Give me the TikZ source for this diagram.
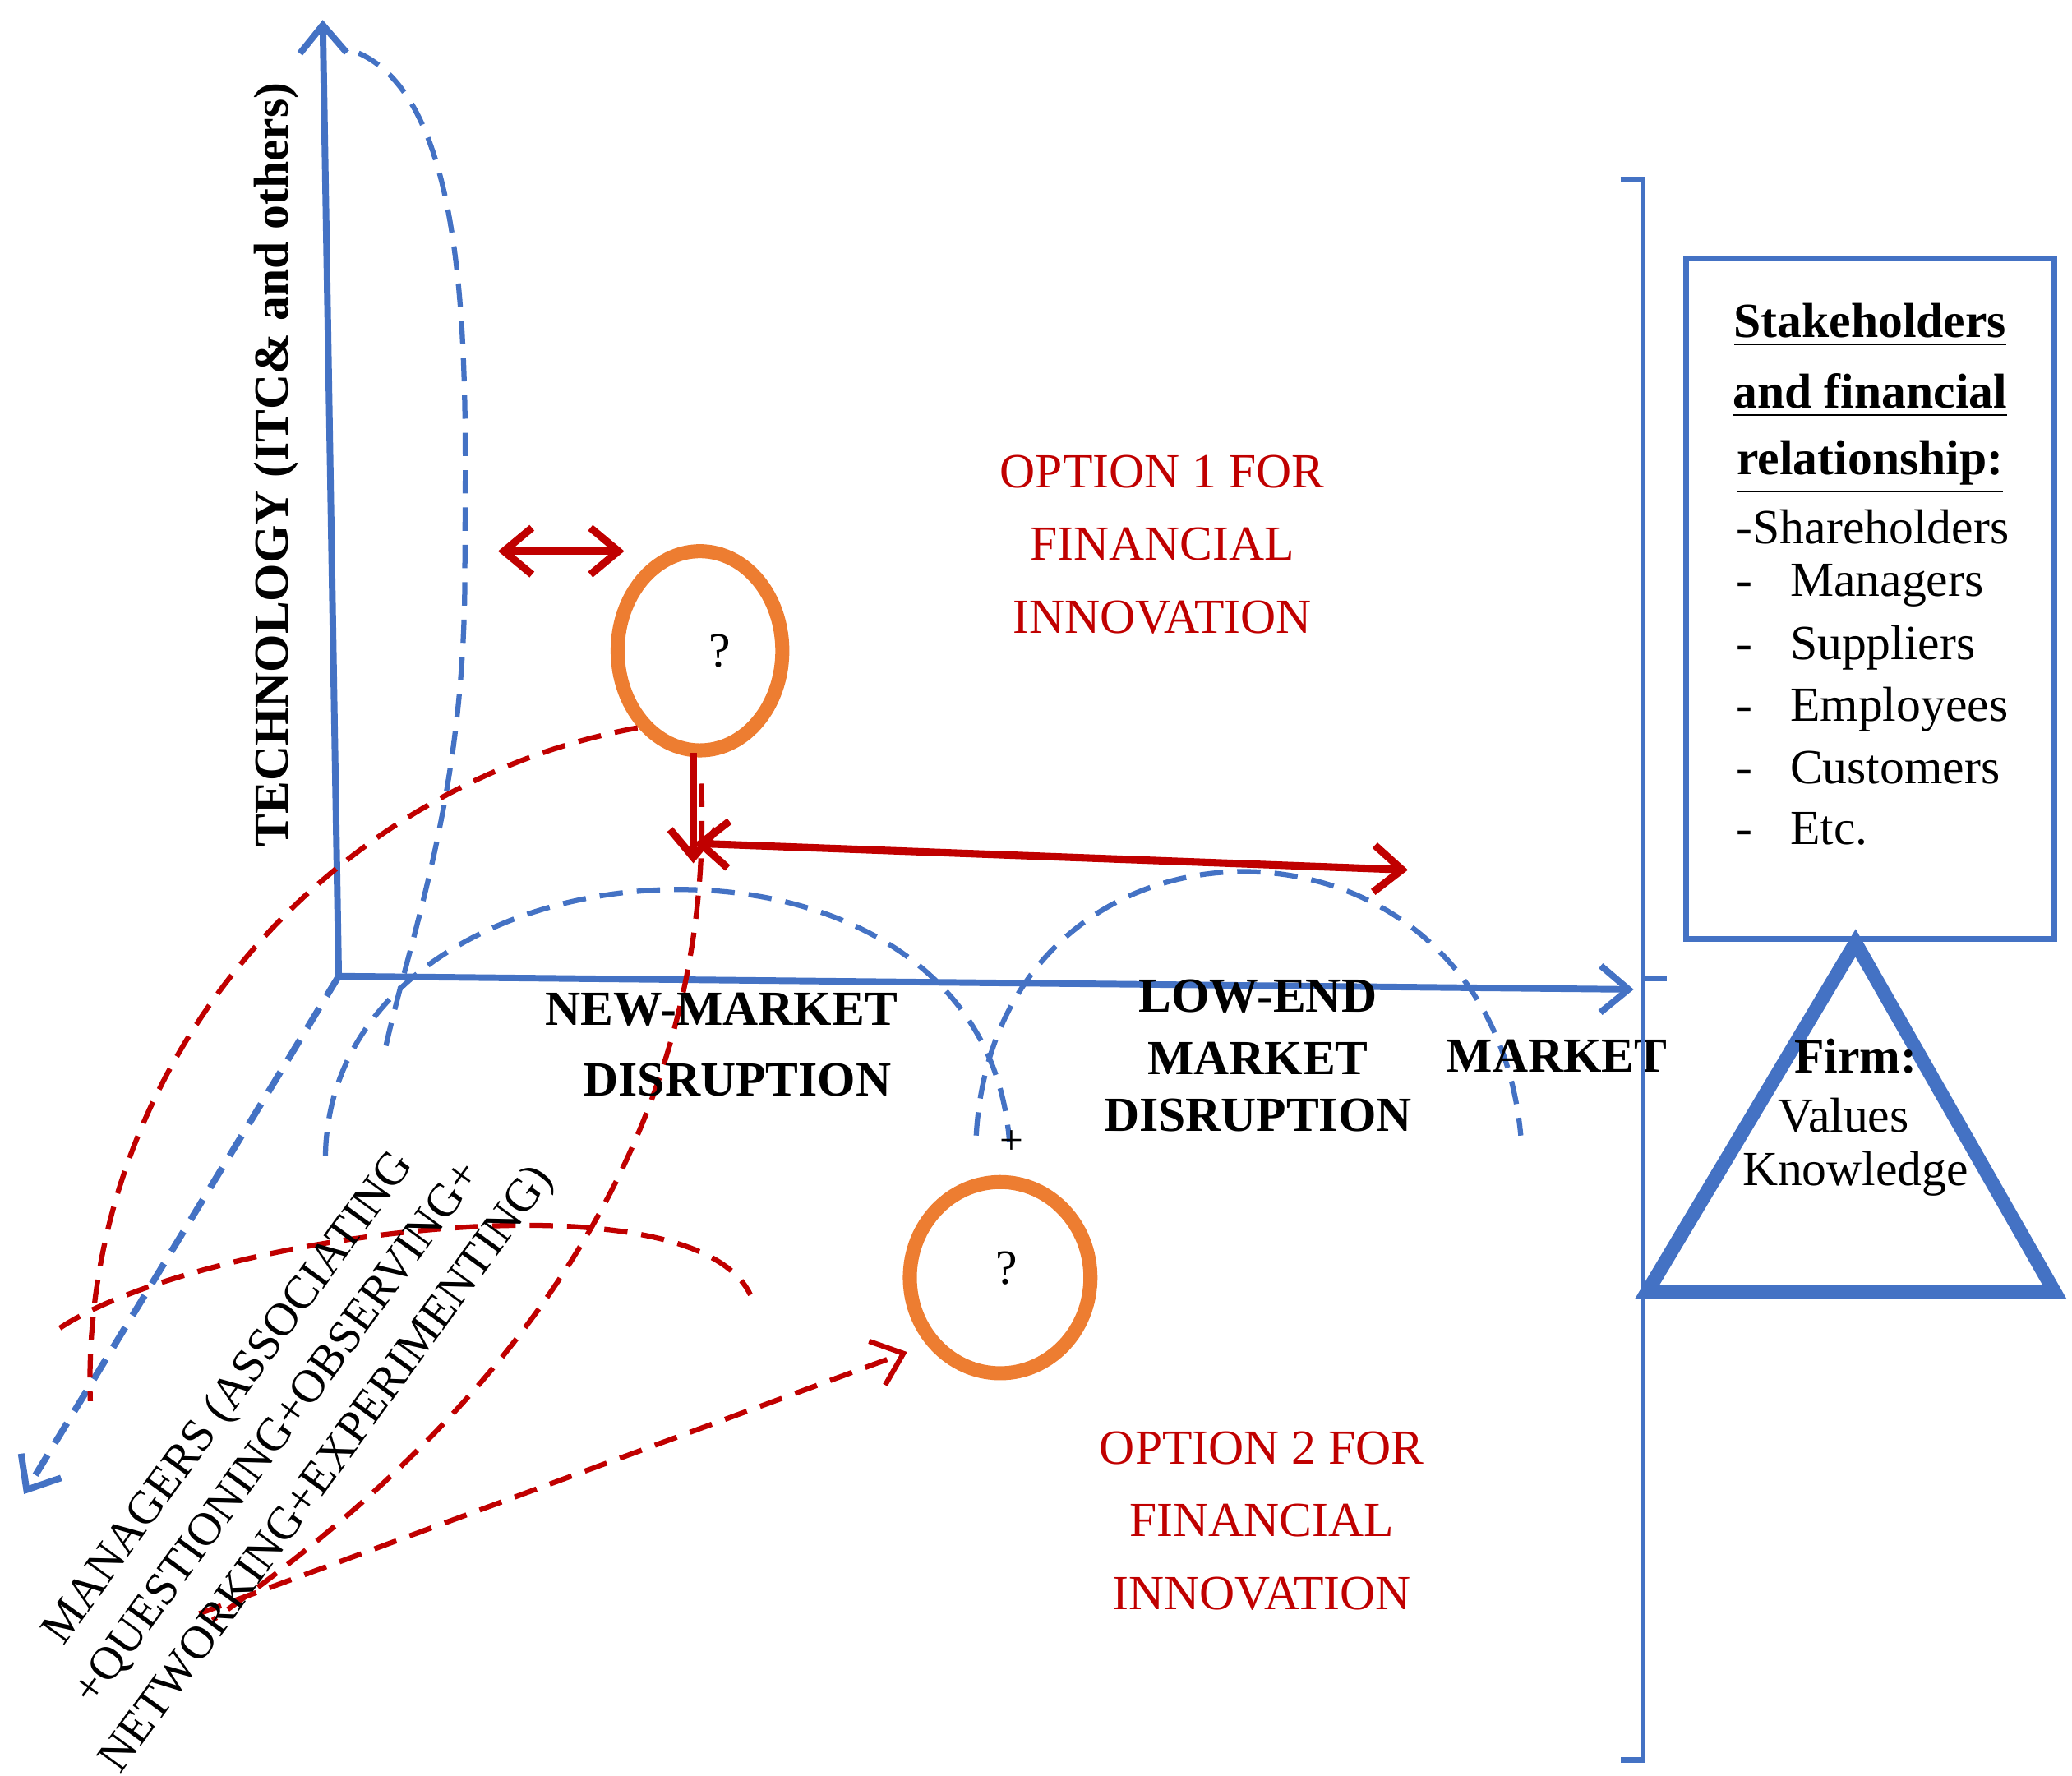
\documentclass[tikz,border=0pt]{standalone}
\usepackage{fontspec}
\setmainfont{Liberation Serif}
\usetikzlibrary{arrows.meta}
\definecolor{cblue}{RGB}{68,114,196}
\definecolor{cred}{RGB}{192,0,0}
\definecolor{corange}{RGB}{237,125,49}
\begin{document}
\begin{tikzpicture}[x=0.01cm,y=-0.01cm,
  axis/.style={cblue,line width=1.4pt,-{Straight Barb[length=6pt,width=10pt]}},
  bdash/.style={cblue,line width=1.1pt,dash pattern=on 5pt off 3pt},
  rdash/.style={cred,line width=1.1pt,dash pattern=on 5pt off 3pt},
  rarr/.style={cred,line width=1.6pt},
  tip/.style={-{Straight Barb[length=6pt,width=10pt]}},
  redtxt/.style={cred,font=\fontsize{10.5}{15.6}\selectfont,align=center},
  bt/.style={font=\bfseries\fontsize{10.5}{13}\selectfont,align=center},
  bt2/.style={font=\fontsize{10.5}{13}\selectfont}]
\useasboundingbox (0,0) rectangle (1560,1337);
\coordinate (O) at (255,735);
\coordinate (Ytop) at (243,15);
\coordinate (Xend) at (1230,745);
\coordinate (Zend) at (18,1125);
\draw[axis] (O) -- (Ytop);
\draw[axis] (O) -- (Xend);
\draw[bdash,line width=1.4pt,tip] (O) -- (Zend);
\node[rotate=90,bt] at (208,350) {TECHNOLOGY (ITC\& and others)};
% blue dashed curves
\draw[bdash] (270,40) .. controls (360,80) and (350,300) .. (350,430) .. controls (350,600) and (310,700) .. (290,790);
\draw[bdash] (245,870) .. controls (250,620) and (740,590) .. (760,860);
\draw[bdash] (735,855) .. controls (750,590) and (1120,590) .. (1145,855);
% circles
\draw[corange,line width=3pt] (527,490) ellipse [x radius=62,y radius=75];
\node[bt2] (q1) at (542,490) {?};
\draw[corange,line width=3pt] (753,962) ellipse [x radius=68,y radius=72];
\node[bt2] (q2) at (758,955) {?};
\coordinate (c2w) at (683,1018);
% red arrows
\coordinate (da) at (375,415); \coordinate (db) at (470,415);
\draw[rarr,{Straight Barb[length=6pt,width=10pt]}-{Straight Barb[length=6pt,width=10pt]}] (da) -- (db);
\coordinate (s1) at (522,567); \coordinate (s2) at (522,650);
\draw[rarr,tip] (s1) -- (s2);
\coordinate (h1) at (523,635); \coordinate (h2) at (1060,655);
\draw[rarr,{Straight Barb[length=6pt,width=10pt]}-{Straight Barb[length=6pt,width=10pt]}] (h1) -- (h2);
% red dashed
\draw[rdash] (480,548) .. controls (250,590) and (60,800) .. (68,1055);
\draw[rdash] (528,590) .. controls (540,900) and (330,1100) .. (160,1220);
\draw[rdash] (45,1000) .. controls (150,930) and (520,880) .. (565,975);
\coordinate (r0) at (150,1215);
\draw[rdash,tip] (r0) -- (c2w);
\node[font=\fontsize{9}{11}\selectfont] (plus) at (762,860) {+};
% texts
\node[redtxt] (o1) at (875,410) {OPTION 1 FOR\\FINANCIAL\\INNOVATION};
\node[redtxt] (o2) at (950,1145) {OPTION 2 FOR\\FINANCIAL\\INNOVATION};
\node[bt] (n1) at (543,760) {NEW-MARKET};
\node[bt] (n2) at (555,813) {DISRUPTION};
\node[bt] (l1) at (947,750) {LOW-END};
\node[bt] (l2) at (947,797) {MARKET};
\node[bt] (l3) at (947,840) {DISRUPTION};
\node[bt] (mk) at (1172,795) {MARKET};
\node[rotate=54,font=\fontsize{10}{13}\selectfont,align=center] (mg) at (210,1080) {MANAGERS (ASSOCIATING\\+QUESTIONING+OBSERVING+\\NETWORKING+EXPERIMENTING)};
% bracket
\draw[cblue,line width=1.2pt] (1220,135) -- (1237,135) -- (1237,1325) -- (1220,1325);
\draw[cblue,line width=1.2pt] (1237,737) -- (1255,737);
% box
\node[draw=cblue,line width=1.2pt,minimum width=2.77cm,minimum height=5.12cm,inner sep=0pt] (box) at (1408,451) {};
\node[bt] at (1408,245) {\underline{Stakeholders}};
\node[bt] at (1408,298) {\underline{and financial}};
\node[bt] at (1408,352) {\underline{relationship:}};
\node[bt2,anchor=west] at (1295,397) {-Shareholders};
\foreach \t/\yy in {Managers/441,Suppliers/488,Employees/534,Customers/578,Etc./624}
  \node[bt2,anchor=west] at (1295,\yy) {-\hspace{8pt}\t};
% triangle
\draw[cblue,line width=3pt,line join=miter] (1397,710) -- (1547,973) -- (1240,973) -- cycle;
\node[bt] at (1397,795) {Firm:};
\node[bt2] at (1388,840) {Values};
\node[bt2] at (1397,884) {Knowledge};
\end{tikzpicture}
\end{document}
